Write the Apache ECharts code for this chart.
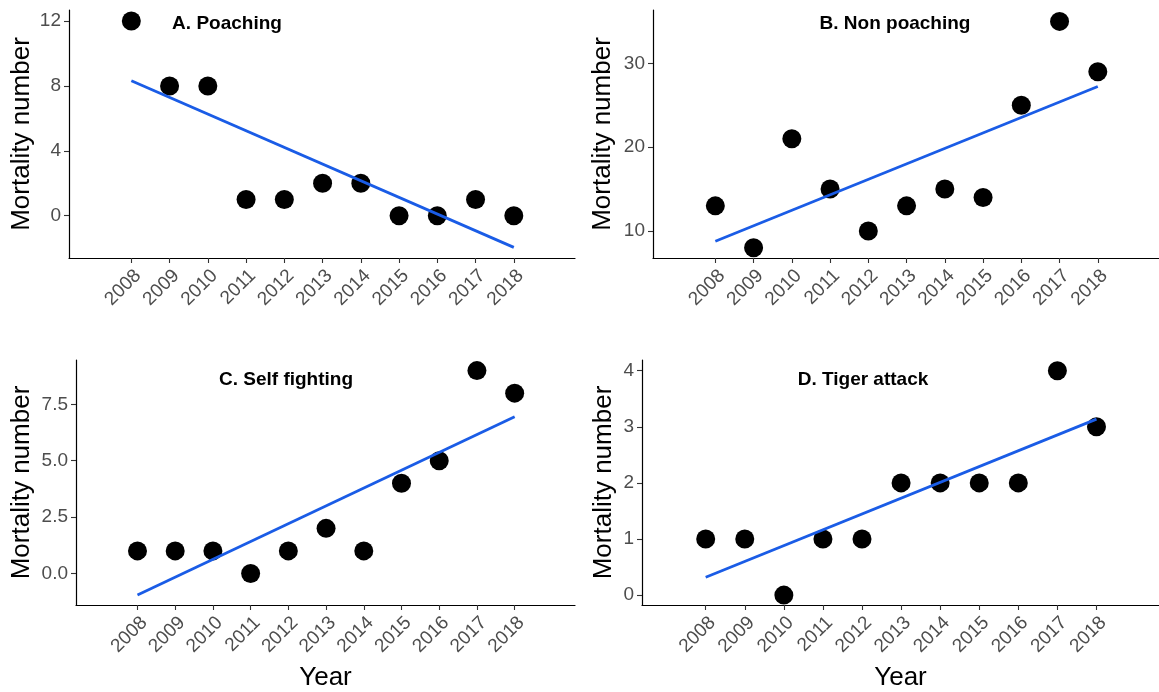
<!DOCTYPE html>
<html><head><meta charset="utf-8">
<script src="https://cdn.jsdelivr.net/npm/echarts@6/dist/echarts.min.js"></script>
<style>html,body{margin:0;padding:0;background:#fff}#c{width:1159px;height:692px}</style>
</head><body><div id="c"></div>
<script>
const years = [2008,2009,2010,2011,2012,2013,2014,2015,2016,2017,2018];
const poaching = [12,8,8,1,1,2,2,0,0,1,0];
const nonPoaching = [13,8,21,15,10,13,15,14,25,35,29];
const selfFighting = [1,1,1,0,1,2,1,4,5,9,8];
const tigerAttack = [1,1,0,1,1,2,2,2,2,4,3];
const panelTitles = ['A. Poaching','B. Non poaching','C. Self fighting','D. Tiger attack'];
const yTicksA = [0,4,8,12];
const yTicksB = [10,20,30];
const yTicksC = [0,2.5,5,7.5];
const yTicksD = [0,1,2,3,4];

function fit(xs, ys){
  const n=xs.length; const mx=xs.reduce((a,b)=>a+b,0)/n; const my=ys.reduce((a,b)=>a+b,0)/n;
  let sxy=0,sxx=0; for(let i=0;i<n;i++){sxy+=(xs[i]-mx)*(ys[i]-my); sxx+=(xs[i]-mx)**2;}
  const b=sxy/sxx, a=my-b*mx;
  return [[xs[0], a+b*xs[0]],[xs[n-1], a+b*xs[n-1]]];
}

const panels = [
  {data:poaching, ticks:yTicksA, ymin:-2.61, ymax:12.68, grid:{left:69,top:10,width:506,height:248}, fmt:v=>String(v), title:{x:222,y:19}, xname:'', ygap:34},
  {data:nonPoaching, ticks:yTicksB, ymin:6.78, ymax:36.36, grid:{left:653,top:10,width:506,height:248}, fmt:v=>String(v), title:{x:890,y:19}, xname:'', ygap:37},
  {data:selfFighting, ticks:yTicksC, ymin:-1.4, ymax:9.47, grid:{left:76,top:360,width:499,height:248}, fmt:v=>v.toFixed(1), title:{x:281,y:375}, xname:'Year', ygap:41},
  {data:tigerAttack, ticks:yTicksD, ymin:-0.176, ymax:4.19, grid:{left:642,top:360,width:517,height:248}, fmt:v=>String(v), title:{x:858,y:375}, xname:'Year', ygap:25}
];

const grid=[], xAxis=[], yAxis=[], series=[], title=[];
panels.forEach((p,i)=>{
  grid.push(p.grid);
  xAxis.push({type:'value', gridIndex:i, min:2006.37, max:2019.6,
    name:p.xname, nameLocation:'middle', nameGap:60,
    nameTextStyle:{fontFamily:'Liberation Sans', fontSize:26, color:'#000'},
    axisLine:{show:true, onZero:false, lineStyle:{color:'#000', width:1.2}},
    axisTick:{show:true, length:5, lineStyle:{color:'#333', width:1.1}, customValues:years},
    axisLabel:{rotate:45, fontFamily:'Liberation Sans', fontSize:19, color:'#4d4d4d', margin:8, verticalAlign:'top', customValues:years, formatter:v=>String(v)},
    splitLine:{show:false}});
  yAxis.push({type:'value', gridIndex:i, min:p.ymin, max:p.ymax,
    name:'Mortality number', nameLocation:'middle', nameGap:p.ygap,
    nameTextStyle:{fontFamily:'Liberation Sans', fontSize:26, color:'#000'},
    axisLine:{show:true, onZero:false, lineStyle:{color:'#000', width:1.2}},
    axisTick:{show:true, length:5, lineStyle:{color:'#333', width:1.1}, customValues:p.ticks},
    axisLabel:{fontFamily:'Liberation Sans', fontSize:19, color:'#4d4d4d', margin:8, customValues:p.ticks, formatter:p.fmt},
    splitLine:{show:false}});
  series.push({type:'scatter', xAxisIndex:i, yAxisIndex:i, symbolSize:19, itemStyle:{color:'#000', opacity:1},
    data:years.map((y,k)=>[y,p.data[k]]), z:2});
  series.push({type:'line', xAxisIndex:i, yAxisIndex:i, symbol:'none', data:fit(years,p.data),
    lineStyle:{color:'#1a5ce6', width:2.8}, z:3});
  title.push({text:panelTitles[i], left:p.title.x, top:p.title.y, textAlign:'center', textVerticalAlign:'middle',
    textStyle:{fontFamily:'Liberation Sans', fontSize:19, fontWeight:'bold', color:'#000'}});
});

const chart = echarts.init(document.getElementById('c'), null, {renderer:'canvas'});
chart.setOption({animation:false, backgroundColor:'#fff', title, grid, xAxis, yAxis, series});
</script></body></html>
